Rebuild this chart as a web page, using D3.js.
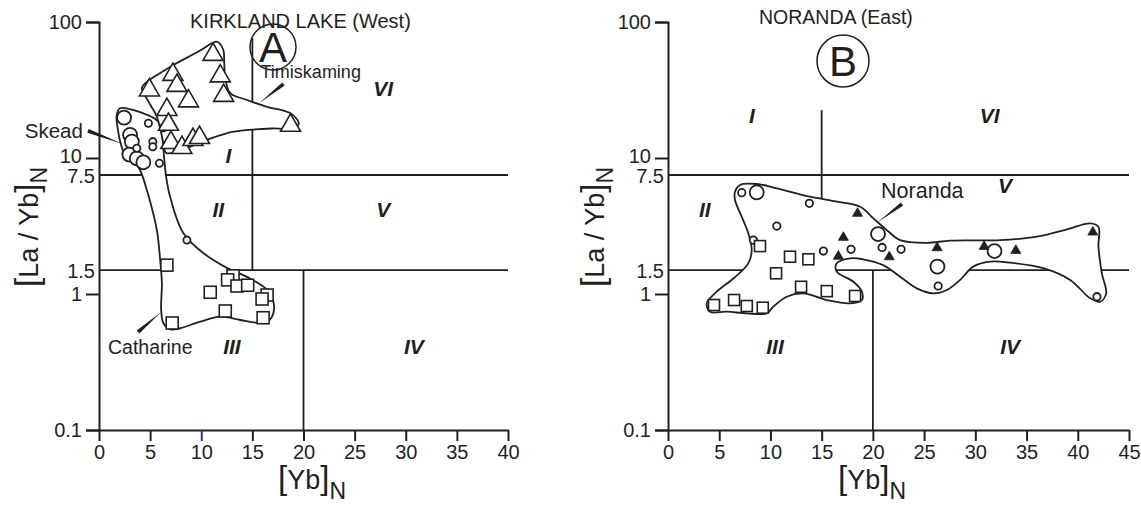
<!DOCTYPE html>
<html>
<head>
<meta charset="utf-8">
<script src="https://cdn.jsdelivr.net/npm/d3@7"></script>
<style>
  body { margin: 0; background: #fff; }
  svg text { font-family: "Liberation Sans", Arial, Helvetica, sans-serif; fill: #231f20; }
</style>
</head>
<body>
<svg id="chart" width="1141" height="508"></svg>
<script>
// values: [Yb]N , [La/Yb]N

// shared axis ticks
const yTickValues = [100, 10, 7.5, 1.5, 1, 0.1];
const yLabelOnly = [7.5, 1.5];
const xTicksA = [0, 5, 10, 15, 20, 25, 30, 35, 40];
const xTicksB = [0, 5, 10, 15, 20, 25, 30, 35, 40, 45];

// ---- panel A : Kirkland Lake (West)
const kirklandTimiskaming = [
  [11.15, 60.5], [7.23, 43.1], [11.86, 42.0], [7.62, 35.8], [4.93, 33.1],
  [12.19, 30.2], [8.75, 27.5], [6.64, 23.8], [6.79, 18.5], [18.73, 18.2],
  [7.03, 13.6], [8.11, 12.5], [9.19, 14.3], [9.83, 14.8]
];
const kirklandCirclesLarge = [
  [2.45, 19.8], [3.04, 14.8], [3.21, 13.2], [2.97, 10.6], [3.70, 9.95], [4.34, 9.3]
];
const kirklandCirclesSmall = [
  [4.83, 18.0], [3.70, 11.8], [5.26, 13.2], [5.26, 12.1], [5.91, 9.14],
  [6.30, 16.7], [8.60, 2.49]
];
const kirklandCatharine = [
  [6.64, 1.63], [13.11, 1.36], [12.58, 1.27], [13.5, 1.145], [14.54, 1.16],
  [10.88, 1.03], [16.44, 0.983], [15.95, 0.919], [12.35, 0.75], [16.05, 0.669],
  [7.16, 0.612]
];
// envelopes
const envTimiskaming = [
  [4.19, 32.7], [4.71, 36.4], [5.69, 40.8], [7.28, 48.3], [9.90, 61.7], [11.08, 70.1],
  [11.57, 71.6], [12.16, 62.3], [12.25, 50.0], [12.35, 38.7], [12.84, 30.0], [14.48, 26.7],
  [16.44, 23.8], [18.73, 21.3], [19.54, 18.0], [19.05, 16.5], [17.09, 16.5], [13.17, 15.6],
  [10.56, 13.6], [8.92, 12.1], [7.62, 11.1], [6.57, 10.9], [6.23, 13.6], [5.98, 16.6],
  [5.59, 20.7], [4.80, 26.3]
];
const envSkeadCatharine = [
  [2.06, 23.2], [4.34, 21.3], [5.49, 19.4], [5.98, 17.8], [6.23, 13.6], [6.37, 10.0],
  [6.57, 7.25], [6.96, 5.17], [8.24, 2.81], [10.2, 2.0], [12.55, 1.55], [14.51, 1.33],
  [16.47, 1.07], [17.09, 0.854], [16.93, 0.681], [16.44, 0.626], [15.46, 0.615],
  [13.82, 0.644], [11.86, 0.681], [9.90, 0.626], [7.94, 0.560], [6.96, 0.550],
  [6.30, 0.609], [6.08, 0.763], [6.15, 1.20], [5.98, 1.78], [5.66, 2.95], [4.68, 5.82],
  [4.02, 8.16], [3.63, 9.03], [2.65, 10.2], [2.16, 12.5], [1.81, 16.9], [1.72, 20.4]
];
const fieldLinesA = [
  [[0, 7.5], [40, 7.5]], [[15, 76], [15, 1.5]], [[0, 1.5], [40, 1.5]], [[20, 1.5], [20, 0.1]]
];
const regionsA = [
  ["I", 12.65, 10.5], ["II", 11.67, 4.15], ["V", 27.8, 4.15], ["VI", 27.8, 32.7],
  ["III", 13.0, 0.408], ["IV", 30.8, 0.408]
];

// ---- panel B : Noranda (East)
const norandaCirclesLarge = [[8.66, 5.59], [20.5, 2.76], [26.3, 1.59], [31.87, 2.07]];
const norandaCirclesSmall = [
  [7.20, 5.56], [13.80, 4.64], [10.62, 3.16], [8.33, 2.49], [15.17, 2.07], [17.87, 2.13],
  [20.9, 2.20], [22.75, 2.13], [26.37, 1.145], [41.87, 0.955]
];
const norandaTriangles = [
  [18.5, 4.01], [17.12, 2.67], [16.63, 1.94], [21.6, 1.92], [26.27, 2.24],
  [30.86, 2.29], [33.95, 2.14], [41.47, 2.92]
];
const norandaSquares = [
  [8.98, 2.25], [11.91, 1.88], [13.70, 1.80], [10.55, 1.42], [12.99, 1.13], [15.50, 1.05],
  [18.26, 0.967], [4.49, 0.83], [6.45, 0.903], [7.69, 0.816], [9.25, 0.793]
];
const envNoranda = [
  [6.54, 5.65], [7.03, 6.33], [8.66, 6.44], [10.62, 5.99], [13.87, 5.19], [16.47, 4.77],
  [18.75, 4.38], [20.05, 3.60], [21.36, 2.95], [22.66, 2.49], [25.26, 2.38], [27.54, 2.47],
  [32.42, 2.49], [36.0, 2.64], [38.94, 2.99], [41.21, 3.31], [42.02, 3.12], [42.02, 2.23],
  [42.35, 1.42], [42.77, 1.01], [42.19, 0.878], [41.21, 0.930], [39.26, 1.27], [36.62, 1.55],
  [33.40, 1.70], [31.45, 1.73], [29.79, 1.59], [28.52, 1.27], [27.22, 1.07], [25.88, 1.01],
  [24.29, 1.10], [22.66, 1.34], [21.0, 1.63], [19.04, 1.80], [17.77, 1.83], [16.47, 1.68],
  [16.47, 1.46], [18.10, 1.23], [18.92, 1.04], [18.92, 0.903], [17.77, 0.854], [15.50, 0.903],
  [13.21, 1.01], [11.59, 0.955], [10.28, 0.807], [9.64, 0.721], [7.69, 0.721], [5.73, 0.741],
  [4.10, 0.741], [3.78, 0.854], [4.76, 1.04], [6.38, 1.30], [7.84, 1.68], [8.17, 2.11],
  [7.84, 2.79], [7.20, 3.70], [6.54, 4.91]
];
const fieldLinesB = [
  [[0, 7.5], [45, 7.5]], [[15, 22.5], [15, 1.5]], [[0, 1.5], [45, 1.5]], [[20, 1.5], [20, 0.1]]
];
const regionsB = [
  ["I", 8.2, 20.7], ["VI", 31.4, 20.7], ["II", 3.6, 4.15], ["V", 32.9, 6.33],
  ["III", 10.45, 0.408], ["IV", 33.4, 0.408]
];

const ink = "#231f20";
const svg = d3.select("#chart");

const yScale = d3.scaleLog().domain([0.1, 100]).range([430, 22]);
const xA = d3.scaleLinear().domain([0, 40]).range([99, 508]);
const xB = d3.scaleLinear().domain([0, 45]).range([668, 1129]);

function triPath(w) {
  // equilateral triangle centred on its bounding box
  const h = w * Math.sqrt(3) / 2;
  return `M0,${-h / 2}L${w / 2},${h / 2}L${-w / 2},${h / 2}Z`;
}

function wedge(p, q, w) {
  const dx = q[0] - p[0], dy = q[1] - p[1], L = Math.hypot(dx, dy);
  const nx = -dy / L * w / 2, ny = dx / L * w / 2;
  return `M${p[0] + nx},${p[1] + ny}L${q[0]},${q[1]}L${p[0] - nx},${p[1] - ny}Z`;
}

function drawPanel(x, xTicks, fieldLines, envelopes, regions) {
  const g = svg.append("g");
  const line = d3.line().x(d => x(d[0])).y(d => yScale(d[1]));

  g.selectAll(".field").data(fieldLines).enter().append("path")
    .attr("d", line).attr("fill", "none").attr("stroke", ink).attr("stroke-width", 1.8);

  const env = d3.line().x(d => x(d[0])).y(d => yScale(d[1]))
    .curve(d3.curveCatmullRomClosed.alpha(0.5));
  g.selectAll(".env").data(envelopes).enter().append("path")
    .attr("d", env).attr("fill", "#fff").attr("stroke", ink).attr("stroke-width", 1.8);

  g.selectAll(".region").data(regions).enter().append("text")
    .attr("x", d => x(d[1])).attr("y", d => yScale(d[2]))
    .attr("text-anchor", "middle").attr("dominant-baseline", "central")
    .attr("font-size", 21).attr("font-weight", "bold").attr("font-style", "italic")
    .text(d => d[0]);

  // axes
  const ya = g.append("g").attr("transform", `translate(${x(0)},0)`)
    .call(d3.axisLeft(yScale).tickValues(yTickValues).tickSize(13).tickPadding(4)
      .tickFormat(d => String(d)));
  const xa = g.append("g").attr("transform", `translate(0,${yScale(0.1)})`)
    .call(d3.axisBottom(x).tickValues(xTicks).tickSize(11).tickSizeOuter(0).tickPadding(4));
  [ya, xa].forEach(a => {
    a.attr("font-family", null).attr("font-size", 20);
    a.selectAll("path.domain").attr("stroke", ink).attr("stroke-width", 2);
    a.selectAll(".tick line").attr("stroke", ink).attr("stroke-width", 2);
    a.selectAll(".tick text").attr("fill", ink);
  });
  ya.selectAll(".tick").filter(d => yLabelOnly.includes(d)).each(function () {
    d3.select(this).select("line").remove();
    d3.select(this).select("text").attr("x", -4).attr("dy", "0.36em");
  });
  ya.selectAll(".tick").filter(d => d === 10).select("text").attr("dy", "0.24em");
  return { g, xa };
}

function circles(g, x, data, r) {
  g.selectAll(null).data(data).enter().append("circle")
    .attr("cx", d => x(d[0])).attr("cy", d => yScale(d[1])).attr("r", r)
    .attr("fill", "#fff").attr("stroke", ink).attr("stroke-width", 1.8);
}
function triangles(g, x, data, w, filled) {
  g.selectAll(null).data(data).enter().append("path")
    .attr("d", triPath(w))
    .attr("transform", d => `translate(${x(d[0])},${yScale(d[1])})`)
    .attr("fill", filled ? ink : "#fff").attr("stroke", ink)
    .attr("stroke-width", filled ? 0.8 : 1.6).attr("stroke-linejoin", "miter");
}
function squares(g, x, data, s) {
  g.selectAll(null).data(data).enter().append("rect")
    .attr("x", d => x(d[0]) - s / 2).attr("y", d => yScale(d[1]) - s / 2)
    .attr("width", s).attr("height", s)
    .attr("fill", "#fff").attr("stroke", ink).attr("stroke-width", 1.6);
}

function axisLabels(g, yx, xStart) {
  const yl = g.append("text")
    .attr("transform", `translate(${yx},287) rotate(-90)`)
    .attr("font-size", 27);
  yl.append("tspan").attr("font-size", 33).text("[");
  yl.append("tspan").text("La / Yb");
  yl.append("tspan").attr("font-size", 33).text("]");
  yl.append("tspan").attr("font-size", 23).attr("dy", 9).text("N");

  const xl = g.append("text").attr("x", xStart).attr("y", 489).attr("font-size", 27);
  xl.append("tspan").attr("font-size", 33).text("[");
  xl.append("tspan").text("Yb");
  xl.append("tspan").attr("font-size", 33).text("]");
  xl.append("tspan").attr("font-size", 23).attr("dy", 10).text("N");
}

function label(g, text, px, py, size, anchor) {
  g.append("text").attr("x", px).attr("y", py).attr("font-size", size)
    .attr("text-anchor", anchor || "start").text(text);
}
function leader(g, x, p, q) {
  g.append("path").attr("d", wedge([x(p[0]), yScale(p[1])], [x(q[0]), yScale(q[1])], 4))
    .attr("fill", ink);
}
function badge(g, cx, cy, r, letter) {
  g.append("circle").attr("cx", cx).attr("cy", cy).attr("r", r)
    .attr("fill", "none").attr("stroke", ink).attr("stroke-width", 1.5);
  g.append("text").attr("x", cx).attr("y", cy + 15).attr("text-anchor", "middle")
    .attr("font-size", 42).text(letter);
}

// ---------- panel A
const pA = drawPanel(xA, xTicksA, fieldLinesA, [envSkeadCatharine, envTimiskaming], regionsA);
pA.xa.selectAll(".tick").filter(d => d === 10).select("line").attr("stroke", "#2a2aa8");
circles(pA.g, xA, kirklandCirclesLarge, 7);
circles(pA.g, xA, kirklandCirclesSmall, 3.6);
triangles(pA.g, xA, kirklandTimiskaming, 20, false);
squares(pA.g, xA, kirklandCatharine, 12);
axisLabels(pA.g, 38, 278);
label(pA.g, "KIRKLAND LAKE (West)", 190, 27.5, 20);
badge(pA.g, 273, 47, 23, "A");
label(pA.g, "Timiskaming", xA(15.8), yScale(38.7), 18);
leader(pA.g, xA, [18.04, 35.0], [15.69, 25.4]);
label(pA.g, "Skead", xA(-1.57), yScale(14.0), 20.5, "end");
leader(pA.g, xA, [-1.08, 15.8], [2.35, 12.7]);
label(pA.g, "Catharine", xA(0.88), yScale(0.362), 19.5);
leader(pA.g, xA, [3.82, 0.526], [6.08, 0.737]);

// ---------- panel B
const pB = drawPanel(xB, xTicksB, fieldLinesB, [envNoranda], regionsB);
circles(pB.g, xB, norandaCirclesLarge, 7);
circles(pB.g, xB, norandaCirclesSmall, 3.7);
triangles(pB.g, xB, norandaTriangles, 10, true);
squares(pB.g, xB, norandaSquares, 11);
axisLabels(pB.g, 604, 838);
label(pB.g, "NORANDA (East)", 759, 24, 19.5);
badge(pB.g, 843, 61, 26, "B");
label(pB.g, "Noranda", xB(20.8), yScale(5.08), 21.5);
leader(pB.g, xB, [22.85, 4.59], [20.5, 3.38]);
</script>
</body>
</html>
